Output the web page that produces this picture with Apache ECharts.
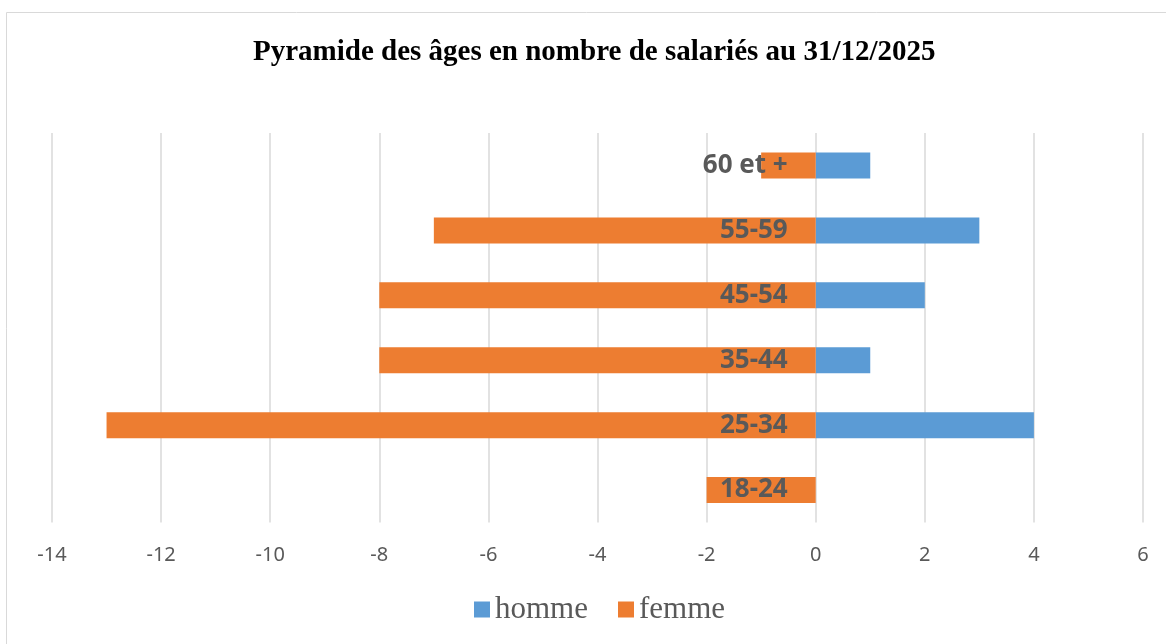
<!DOCTYPE html>
<html>
<head>
<meta charset="utf-8">
<script src="https://cdn.jsdelivr.net/npm/echarts@6/dist/echarts.min.js"></script>
<style>
  html, body { margin: 0; padding: 0; background: #fff; }
  #chart { width: 1166px; height: 644px; }
</style>
</head>
<body>
<div id="chart"></div>
<script>
// tranches d'âge, de bas en haut
const ageGroups = ['18-24', '25-34', '35-44', '45-54', '55-59', '60 et +'];
const homme = [0, 4, 1, 2, 3, 1];
const femme = [-2, -13, -8, -8, -7, -1];
const xTicks = { min: -14, max: 6, interval: 2 };

const chart = echarts.init(document.getElementById('chart'));

let option = {
  animation: false,
  color: ['#5b9bd5', '#ed7d31'],
  title: {
    text: 'Pyramide des âges en nombre de salariés au 31/12/2025',
    left: 248,
    top: 33,
    textStyle: {
      fontFamily: 'Liberation Serif',
      fontWeight: 'bold',
      fontSize: 29,
      color: '#000'
    }
  },
  // cadre du graphique
  graphic: [{
    type: 'rect',
    shape: { x: 6.5, y: 12.5, width: 1180, height: 660 },
    style: { fill: 'none', stroke: '#d9d9d9', lineWidth: 1 },
    silent: true
  }],
  legend: {
    bottom: 14,
    left: 469,
    itemWidth: 16,
    itemHeight: 16,
    itemGap: 30,
    icon: 'rect',
    data: ['homme', 'femme'],
    textStyle: {
      fontFamily: 'Liberation Serif',
      fontSize: 31,
      color: '#595959'
    }
  },
  grid: {
    left: 52,
    right: 23,
    top: 133,
    bottom: 121.5,
    containLabel: false,
    outerBoundsMode: 'none'
  },
  xAxis: {
    type: 'value',
    min: xTicks.min,
    max: xTicks.max,
    interval: xTicks.interval,
    axisLine: { show: false },
    axisTick: { show: false },
    splitLine: { show: true, lineStyle: { color: '#d9d9d9', width: 1.5 } },
    axisLabel: {
      margin: 23,
      fontFamily: 'Noto Sans',
      fontSize: 20,
      color: '#595959'
    }
  },
  yAxis: {
    type: 'category',
    data: ageGroups,
    axisLine: { show: false },
    axisTick: { show: false },
    axisLabel: { show: false }
  },
  series: [
    {
      name: 'homme',
      type: 'bar',
      data: homme,
      barWidth: 26,
      barGap: '-100%'
    },
    {
      name: 'femme',
      type: 'bar',
      data: femme,
      barWidth: 26,
      barGap: '-100%'
    },
    {
      // étiquettes des tranches, posées à gauche de l'axe 0
      name: 'tranche',
      type: 'bar',
      data: ageGroups.map(() => 0),
      barWidth: 26,
      barGap: '-100%',
      z: 5,
      itemStyle: { color: 'transparent' },
      label: {
        show: true,
        position: 'left',
        distance: 28,
        formatter: '{b}',
        fontFamily: 'Noto Sans',
        fontWeight: 'bold',
        fontSize: 26,
        color: '#595959'
      }
    }
  ]
};

chart.setOption(option);
</script>
</body>
</html>
